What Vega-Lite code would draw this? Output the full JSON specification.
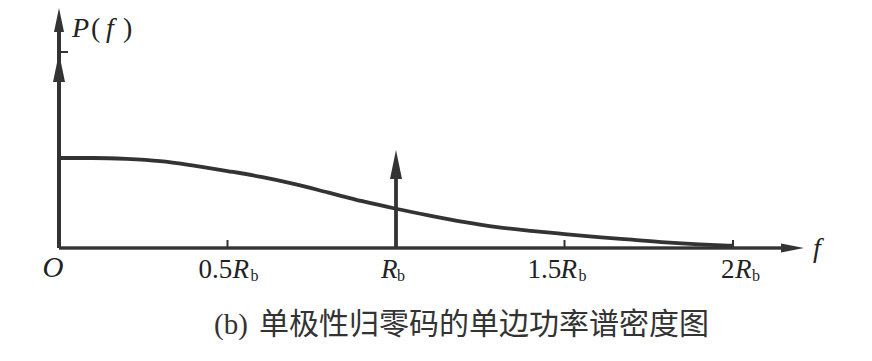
{
  "$schema": "https://vega.github.io/schema/vega-lite/v6.json",
  "width": 745,
  "height": 240,
  "autosize": {"type": "none"},
  "padding": {"left": 59, "top": 8, "right": 68, "bottom": 113},
  "background": "#ffffff",
  "config": {"view": {"stroke": null}},
  "datasets": {
    "curve": [
      {"f": 0.0, "p": 1.0},
      {"f": 0.1, "p": 1.0},
      {"f": 0.2, "p": 0.99},
      {"f": 0.3, "p": 0.965},
      {"f": 0.4, "p": 0.915},
      {"f": 0.5, "p": 0.855},
      {"f": 0.6, "p": 0.79},
      {"f": 0.7, "p": 0.71},
      {"f": 0.8, "p": 0.615},
      {"f": 0.9, "p": 0.52},
      {"f": 1.0, "p": 0.436},
      {"f": 1.1, "p": 0.36},
      {"f": 1.2, "p": 0.29},
      {"f": 1.3, "p": 0.232},
      {"f": 1.4, "p": 0.19},
      {"f": 1.5, "p": 0.155},
      {"f": 1.6, "p": 0.122},
      {"f": 1.7, "p": 0.092},
      {"f": 1.8, "p": 0.062},
      {"f": 1.9, "p": 0.04},
      {"f": 2.0, "p": 0.025}
    ],
    "impulses": [
      {"f": 0, "p": 2.167},
      {"f": 1, "p": 1.089}
    ],
    "xticks": [
      {"f": 0.5, "pre": "0.5"},
      {"f": 1.0, "pre": ""},
      {"f": 1.5, "pre": "1.5"},
      {"f": 2.0, "pre": "2"}
    ],
    "yticks": [
      {"p": 2.178}
    ]
  },
  "layer": [
    {
      "data": {"name": "curve"},
      "mark": {"type": "line", "interpolate": "monotone", "strokeWidth": 3.8, "color": "#333333"},
      "encoding": {
        "x": {"field": "f", "type": "quantitative", "scale": {"domain": [0, 2.2107], "nice": false, "zero": false}, "axis": null},
        "y": {"field": "p", "type": "quantitative", "scale": {"domain": [0, 2.6667], "nice": false, "zero": false}, "axis": null}
      }
    },
    {
      "data": {"name": "xticks"},
      "mark": {"type": "rule", "strokeWidth": 2, "color": "#333333", "y2Offset": -8},
      "encoding": {
        "x": {"field": "f", "type": "quantitative"},
        "y": {"datum": 0},
        "y2": {"datum": 0}
      }
    },
    {
      "data": {"name": "yticks"},
      "mark": {"type": "rule", "strokeWidth": 2, "color": "#333333", "x2Offset": 9},
      "encoding": {
        "x": {"datum": 0},
        "x2": {"datum": 0},
        "y": {"field": "p", "type": "quantitative"}
      }
    },
    {
      "data": {"name": "xticks"},
      "mark": {"type": "rule", "strokeWidth": 2.5, "color": "#333333", "x2Offset": -12},
      "encoding": {
        "x": {"datum": 0},
        "x2": {"datum": 2.2107},
        "y": {"datum": 0}
      }
    },
    {
      "data": {"name": "xticks"},
      "mark": {"type": "rule", "strokeWidth": 3.5, "color": "#333333", "y2Offset": 12},
      "encoding": {
        "x": {"datum": 0},
        "y": {"datum": 0},
        "y2": {"datum": 2.6667}
      }
    },
    {
      "data": {"name": "impulses"},
      "mark": {"type": "rule", "strokeWidth": 3.8, "color": "#333333", "y2Offset": 15},
      "encoding": {
        "x": {"field": "f", "type": "quantitative"},
        "y": {"datum": 0},
        "y2": {"field": "p", "type": "quantitative"}
      }
    },
    {
      "data": {"name": "impulses"},
      "mark": {"type": "point", "shape": "M0,0L6,29L-6,29Z", "filled": true, "size": 4, "opacity": 1, "color": "#333333", "strokeWidth": 0},
      "encoding": {
        "x": {"field": "f", "type": "quantitative"},
        "y": {"field": "p", "type": "quantitative"}
      }
    },
    {
      "data": {"name": "yticks"},
      "mark": {"type": "point", "shape": "M0,0L5,24L-5,24Z", "filled": true, "size": 4, "opacity": 1, "color": "#333333", "strokeWidth": 0},
      "encoding": {
        "x": {"datum": 0},
        "y": {"datum": 2.6667}
      }
    },
    {
      "data": {"name": "yticks"},
      "mark": {"type": "point", "shape": "M0,0L-23,-4.5L-23,4.5Z", "filled": true, "size": 4, "opacity": 1, "color": "#333333", "strokeWidth": 0},
      "encoding": {
        "x": {"datum": 2.2107},
        "y": {"datum": 0}
      }
    },
    {
      "data": {"name": "xticks"},
      "transform": [{"filter": "datum.f == 0.5"}],
      "layer": [
        {"mark": {"type": "text", "align": "left", "baseline": "alphabetic", "dx": -29, "dy": 30, "font": "Liberation Serif", "fontSize": 27, "color": "#222222"},
         "encoding": {"x": {"field": "f", "type": "quantitative"}, "y": {"datum": 0}, "text": {"field": "pre"}}},
        {"mark": {"type": "text", "align": "left", "baseline": "alphabetic", "dx": 5, "dy": 30, "font": "Liberation Serif", "fontStyle": "italic", "fontSize": 27, "color": "#222222", "text": "R"},
         "encoding": {"x": {"field": "f", "type": "quantitative"}, "y": {"datum": 0}}},
        {"mark": {"type": "text", "align": "left", "baseline": "alphabetic", "dx": 23, "dy": 33, "font": "Liberation Serif", "fontSize": 16, "color": "#222222", "text": "b"},
         "encoding": {"x": {"field": "f", "type": "quantitative"}, "y": {"datum": 0}}}
      ]
    },
    {
      "data": {"name": "xticks"},
      "transform": [{"filter": "datum.f == 1"}],
      "layer": [
        {"mark": {"type": "text", "align": "left", "baseline": "alphabetic", "dx": -15, "dy": 30, "font": "Liberation Serif", "fontStyle": "italic", "fontSize": 27, "color": "#222222", "text": "R"},
         "encoding": {"x": {"field": "f", "type": "quantitative"}, "y": {"datum": 0}}},
        {"mark": {"type": "text", "align": "left", "baseline": "alphabetic", "dx": 1, "dy": 33, "font": "Liberation Serif", "fontSize": 16, "color": "#222222", "text": "b"},
         "encoding": {"x": {"field": "f", "type": "quantitative"}, "y": {"datum": 0}}}
      ]
    },
    {
      "data": {"name": "xticks"},
      "transform": [{"filter": "datum.f == 1.5"}],
      "layer": [
        {"mark": {"type": "text", "align": "left", "baseline": "alphabetic", "dx": -37, "dy": 30, "font": "Liberation Serif", "fontSize": 27, "color": "#222222"},
         "encoding": {"x": {"field": "f", "type": "quantitative"}, "y": {"datum": 0}, "text": {"field": "pre"}}},
        {"mark": {"type": "text", "align": "left", "baseline": "alphabetic", "dx": -4, "dy": 30, "font": "Liberation Serif", "fontStyle": "italic", "fontSize": 27, "color": "#222222", "text": "R"},
         "encoding": {"x": {"field": "f", "type": "quantitative"}, "y": {"datum": 0}}},
        {"mark": {"type": "text", "align": "left", "baseline": "alphabetic", "dx": 14, "dy": 33, "font": "Liberation Serif", "fontSize": 16, "color": "#222222", "text": "b"},
         "encoding": {"x": {"field": "f", "type": "quantitative"}, "y": {"datum": 0}}}
      ]
    },
    {
      "data": {"name": "xticks"},
      "transform": [{"filter": "datum.f == 2"}],
      "layer": [
        {"mark": {"type": "text", "align": "left", "baseline": "alphabetic", "dx": -12, "dy": 30, "font": "Liberation Serif", "fontSize": 27, "color": "#222222"},
         "encoding": {"x": {"field": "f", "type": "quantitative"}, "y": {"datum": 0}, "text": {"field": "pre"}}},
        {"mark": {"type": "text", "align": "left", "baseline": "alphabetic", "dx": 2, "dy": 30, "font": "Liberation Serif", "fontStyle": "italic", "fontSize": 27, "color": "#222222", "text": "R"},
         "encoding": {"x": {"field": "f", "type": "quantitative"}, "y": {"datum": 0}}},
        {"mark": {"type": "text", "align": "left", "baseline": "alphabetic", "dx": 19, "dy": 33, "font": "Liberation Serif", "fontSize": 16, "color": "#222222", "text": "b"},
         "encoding": {"x": {"field": "f", "type": "quantitative"}, "y": {"datum": 0}}}
      ]
    },
    {
      "data": {"name": "yticks"},
      "layer": [
        {"mark": {"type": "text", "align": "center", "baseline": "alphabetic", "dx": -6, "dy": 29, "font": "Liberation Serif", "fontStyle": "italic", "fontSize": 29, "color": "#222222", "text": "O"},
         "encoding": {"x": {"datum": 0}, "y": {"datum": 0}}},
        {"mark": {"type": "text", "align": "center", "baseline": "alphabetic", "dx": 13, "dy": 9, "font": "Liberation Serif", "fontStyle": "italic", "fontSize": 28, "color": "#222222", "text": "f"},
         "encoding": {"x": {"datum": 2.2107}, "y": {"datum": 0}}},
        {"mark": {"type": "text", "align": "left", "baseline": "alphabetic", "dx": 13, "dy": 29, "font": "Liberation Serif", "fontStyle": "italic", "fontSize": 28, "color": "#222222", "text": "P"},
         "encoding": {"x": {"datum": 0}, "y": {"datum": 2.6667}}},
        {"mark": {"type": "text", "align": "left", "baseline": "alphabetic", "dx": 32, "dy": 29, "font": "Liberation Serif", "fontSize": 28, "color": "#222222", "text": "("},
         "encoding": {"x": {"datum": 0}, "y": {"datum": 2.6667}}},
        {"mark": {"type": "text", "align": "center", "baseline": "alphabetic", "dx": 51, "dy": 29, "font": "Liberation Serif", "fontStyle": "italic", "fontSize": 28, "color": "#222222", "text": "f"},
         "encoding": {"x": {"datum": 0}, "y": {"datum": 2.6667}}},
        {"mark": {"type": "text", "align": "left", "baseline": "alphabetic", "dx": 64, "dy": 29, "font": "Liberation Serif", "fontSize": 28, "color": "#222222", "text": ")"},
         "encoding": {"x": {"datum": 0}, "y": {"datum": 2.6667}}},
        {"mark": {"type": "text", "align": "left", "baseline": "alphabetic", "dx": 155, "dy": 86, "font": "Liberation Serif", "fontSize": 29, "color": "#333333", "text": "(b)"},
         "encoding": {"x": {"datum": 0}, "y": {"datum": 0}}},
        {"mark": {"type": "text", "align": "left", "baseline": "alphabetic", "dx": 200, "dy": 86, "font": "Noto Sans CJK SC", "fontSize": 30, "color": "#333333", "text": "单极性归零码的单边功率谱密度图"},
         "encoding": {"x": {"datum": 0}, "y": {"datum": 0}}}
      ]
    }
  ]
}
